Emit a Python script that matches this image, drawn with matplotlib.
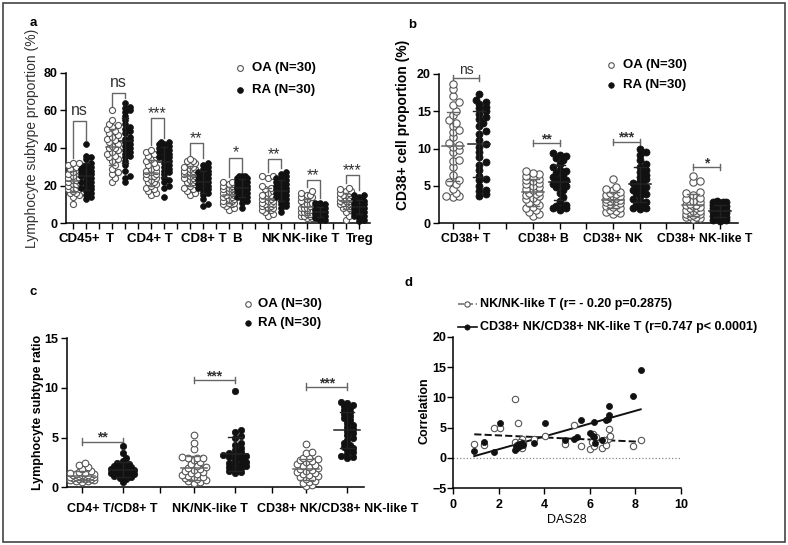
import numpy as np
import matplotlib
matplotlib.use("Agg")
import matplotlib.pyplot as plt
from matplotlib.lines import Line2D
from matplotlib.patches import Rectangle

plt.rcParams['font.family'] = ['Liberation Sans', 'DejaVu Sans']
plt.rcParams['font.weight'] = 'bold'

W, H = 788, 545

# ---- panel a: lymphocyte subtype proportion (%) ----
a_labels = ['CD45+', 'T', 'CD4+ T', 'CD8+ T', 'B', 'NK', 'NK-like T', 'Treg']
a_oa = [
    [10, 14, 15, 16, 16, 17, 18, 18, 19, 19, 20, 20, 21, 21, 22, 22, 23, 23, 24, 24, 25, 26, 26, 27, 28, 29, 30, 31, 32, 32],
    [22, 24, 26, 27, 29, 31, 33, 34, 35, 36, 37, 38, 39, 40, 40, 41, 42, 43, 44, 45, 46, 47, 48, 49, 50, 51, 52, 53, 55, 60],
    [15, 16, 17, 18, 19, 20, 21, 22, 22, 23, 24, 24, 25, 25, 26, 26, 27, 28, 28, 29, 30, 31, 32, 33, 34, 35, 36, 37, 38, 39],
    [15, 16, 17, 18, 19, 20, 21, 22, 22, 23, 23, 24, 24, 25, 25, 26, 26, 27, 27, 28, 28, 29, 29, 30, 30, 31, 32, 33, 33, 34],
    [7, 8, 9, 10, 10, 11, 11, 12, 12, 13, 13, 14, 14, 15, 15, 15, 16, 16, 17, 17, 18, 18, 19, 19, 20, 20, 21, 21, 22, 22],
    [4, 5, 6, 7, 7, 8, 8, 9, 9, 10, 10, 10, 11, 11, 12, 12, 13, 13, 14, 14, 15, 15, 16, 17, 18, 19, 20, 24, 25, 25],
    [3, 3, 4, 4, 4, 5, 5, 5, 6, 6, 6, 7, 7, 7, 8, 8, 8, 9, 9, 10, 10, 11, 12, 13, 14, 14, 15, 15, 16, 17],
    [2, 4, 6, 7, 8, 8, 9, 9, 10, 10, 11, 11, 11, 12, 12, 12, 13, 13, 13, 14, 14, 15, 15, 15, 16, 16, 17, 17, 18, 19],
]
a_ra = [
    [13, 14, 15, 16, 17, 18, 19, 19, 20, 21, 22, 22, 23, 24, 25, 25, 26, 27, 27, 28, 29, 29, 30, 30, 31, 32, 34, 35, 36, 42],
    [22, 24, 25, 28, 31, 33, 35, 36, 37, 38, 39, 40, 41, 42, 43, 44, 45, 46, 48, 49, 50, 51, 53, 55, 57, 59, 60, 61, 62, 64],
    [14, 19, 20, 22, 23, 24, 26, 27, 28, 29, 30, 31, 32, 33, 34, 35, 35, 36, 37, 38, 38, 39, 40, 40, 41, 41, 42, 42, 43, 43],
    [9, 10, 13, 15, 16, 17, 18, 19, 19, 20, 20, 21, 21, 22, 22, 23, 23, 24, 24, 25, 25, 26, 26, 27, 27, 28, 29, 30, 31, 32],
    [8, 11, 12, 13, 14, 14, 15, 15, 16, 16, 17, 17, 18, 18, 19, 19, 20, 20, 21, 21, 22, 22, 23, 23, 24, 24, 25, 25, 24, 25],
    [6, 8, 9, 10, 11, 12, 13, 14, 14, 15, 15, 16, 16, 17, 17, 18, 18, 19, 19, 20, 20, 21, 22, 22, 23, 24, 24, 25, 26, 27],
    [2, 2, 3, 3, 3, 4, 4, 4, 4, 5, 5, 5, 5, 6, 6, 6, 6, 7, 7, 7, 8, 8, 8, 9, 9, 9, 10, 10, 11, 11],
    [1, 2, 3, 4, 4, 5, 5, 6, 6, 7, 7, 7, 8, 8, 8, 9, 9, 9, 10, 10, 10, 11, 11, 12, 12, 13, 13, 14, 15, 15],
]
a_sig = ['ns', 'ns', '***', '**', '*', '**', '**', '***']
a_sig_y = [54.5, 69.4, 55.8, 42.8, 34.9, 34.0, 23.0, 25.7]

# ---- panel b: CD38+ cell proportion (%) ----
b_labels = ['CD38+ T', 'CD38+ B', 'CD38+ NK', 'CD38+ NK-like T']
b_oa = [
    [3.5, 3.6, 3.7, 4.0, 4.6, 5.2, 5.5, 5.8, 6.5, 7.5, 8.3, 8.5, 9.5, 9.8, 10.2, 10.5, 10.8, 11.5, 12.2, 12.5, 13.0, 13.5, 13.9, 14.5, 15.0, 15.8, 16.2, 17.0, 18.0, 18.7],
    [1.0, 1.2, 1.5, 1.8, 2.0, 2.2, 2.5, 2.7, 3.0, 3.2, 3.4, 3.6, 3.8, 3.9, 4.0, 4.2, 4.4, 4.6, 4.8, 5.0, 5.2, 5.4, 5.6, 5.8, 6.0, 6.2, 6.4, 6.6, 6.8, 7.0],
    [1.3, 1.4, 1.5, 1.6, 1.8, 2.0, 2.2, 2.3, 2.5, 2.6, 2.7, 2.8, 2.9, 3.0, 3.0, 3.1, 3.2, 3.3, 3.4, 3.5, 3.6, 3.7, 3.8, 3.9, 4.0, 4.2, 4.4, 4.6, 4.9, 6.0],
    [0.6, 0.7, 0.8, 0.9, 1.0, 1.1, 1.2, 1.3, 1.4, 1.5, 1.6, 1.7, 1.8, 2.0, 2.1, 2.2, 2.3, 2.4, 2.5, 2.6, 2.8, 3.0, 3.2, 3.4, 3.8, 4.0, 4.2, 5.5, 5.7, 6.4],
]
b_ra = [
    [3.7, 3.9, 4.3, 4.5, 5.0, 5.8, 6.0, 6.4, 7.2, 7.8, 8.2, 8.9, 9.5, 10.2, 10.6, 11.2, 12.0, 12.4, 13.0, 13.5, 14.0, 14.3, 14.6, 15.0, 15.4, 15.6, 16.0, 16.2, 16.5, 17.3],
    [1.8, 2.0, 2.0, 2.2, 2.3, 2.5, 3.0, 3.5, 4.0, 4.5, 4.8, 5.0, 5.2, 5.3, 5.5, 5.6, 5.8, 6.0, 6.2, 6.5, 6.8, 7.0, 7.2, 7.5, 8.0, 8.5, 8.7, 9.0, 9.2, 9.4],
    [1.9, 2.0, 2.1, 2.3, 2.5, 2.8, 3.0, 3.3, 3.6, 3.9, 4.1, 4.3, 4.5, 4.7, 4.8, 5.0, 5.2, 5.4, 5.6, 5.9, 6.2, 6.5, 6.9, 7.2, 7.6, 8.0, 8.5, 9.2, 9.6, 10.0],
    [0.3, 0.4, 0.5, 0.6, 0.7, 0.8, 0.9, 1.0, 1.1, 1.2, 1.3, 1.4, 1.5, 1.5, 1.6, 1.7, 1.8, 1.9, 2.0, 2.1, 2.2, 2.3, 2.4, 2.5, 2.6, 2.7, 2.8, 2.8, 2.9, 3.0],
]
b_sig = ['ns', '**', '***', '*']
b_sig_y = [19.5, 10.7, 10.9, 7.5]

# ---- panel c: lymphocyte subtype ratio ----
c_labels = ['CD4+ T/CD8+ T', 'NK/NK-like T', 'CD38+ NK/CD38+ NK-like T']
c_oa = [
    [0.5, 0.6, 0.6, 0.7, 0.7, 0.8, 0.8, 0.8, 0.9, 0.9, 0.9, 1.0, 1.0, 1.0, 1.1, 1.1, 1.1, 1.2, 1.2, 1.2, 1.3, 1.3, 1.4, 1.4, 1.5, 1.6, 1.8, 2.0, 2.2, 2.4],
    [0.4, 0.5, 0.6, 0.7, 0.8, 0.9, 0.9, 1.0, 1.0, 1.1, 1.2, 1.3, 1.4, 1.5, 1.6, 1.7, 1.8, 1.9, 2.0, 2.1, 2.3, 2.5, 2.7, 2.9, 3.0, 3.0, 3.1, 3.9, 4.5, 5.3],
    [0.1, 0.2, 0.4, 0.5, 0.6, 0.8, 0.9, 1.0, 1.1, 1.2, 1.3, 1.4, 1.5, 1.6, 1.7, 1.8, 1.9, 2.0, 2.1, 2.2, 2.3, 2.5, 2.6, 2.7, 2.8, 2.9, 3.0, 3.5, 3.6, 4.4],
]
c_ra = [
    [0.5, 0.8, 0.9, 1.0, 1.1, 1.2, 1.2, 1.3, 1.3, 1.4, 1.4, 1.5, 1.5, 1.6, 1.6, 1.7, 1.7, 1.8, 1.8, 1.9, 2.0, 2.0, 2.1, 2.2, 2.3, 2.4, 2.6, 2.9, 3.5, 4.2],
    [1.4, 1.5, 1.6, 1.8, 1.9, 2.0, 2.1, 2.2, 2.3, 2.4, 2.5, 2.6, 2.8, 3.0, 3.1, 3.2, 3.2, 3.3, 3.4, 3.5, 3.6, 3.8, 4.0, 4.3, 4.5, 5.0, 5.2, 5.6, 5.8, 9.7],
    [3.0, 3.1, 3.2, 3.4, 3.6, 3.8, 4.0, 4.1, 4.3, 4.5, 4.8, 5.0, 5.3, 5.5, 5.7, 5.9, 6.1, 6.3, 6.5, 6.8, 7.0, 7.2, 7.4, 7.6, 7.8, 8.0, 8.2, 8.3, 8.5, 8.6],
]
c_sig = ['**', '***', '***']
c_sig_y = [4.6, 10.8, 10.1]

# ---- panel d: correlation with DAS28 ----
d_open_x = [0.92, 1.36, 1.77, 2.04, 2.72, 2.86, 2.71, 3.0, 3.03, 3.54, 4.03, 4.89, 5.31, 5.59, 6.0,
            6.15, 6.18, 6.25, 6.54, 6.71, 6.78, 6.84, 6.88, 7.91, 8.23, 2.8, 2.95, 6.1, 6.6, 3.05]
d_open_y = [2.3, 2.1, 5.0, 5.0, 9.7, 5.8, 2.7, 3.2, 1.6, 3.2, 3.7, 2.3, 5.5, 2.0, 1.4,
            4.0, 2.0, 3.4, 1.7, 2.2, 3.2, 4.8, 3.7, 2.0, 3.0, 2.2, 2.6, 2.6, 2.9, 2.4]
d_fill_x = [0.92, 1.36, 1.77, 2.04, 2.71, 2.75, 2.86, 2.93, 3.0, 3.07, 3.54, 4.03, 4.89, 5.31, 5.42,
            5.59, 6.0, 6.18, 6.19, 6.21, 6.54, 6.71, 6.78, 6.84, 6.84, 7.91, 8.23, 2.8, 2.9, 6.15]
d_fill_y = [1.2, 2.6, 1.0, 5.7, 1.3, 2.0, 2.1, 1.9, 2.4, 2.2, 2.4, 5.7, 3.0, 3.2, 3.4,
            6.3, 4.1, 3.4, 6.0, 2.5, 3.0, 6.3, 6.5, 7.1, 8.5, 10.3, 14.5, 1.7, 2.3, 3.6]
d_labels = ['NK/NK-like T (r= - 0.20 p=0.2875)', 'CD38+ NK/CD38+ NK-like T (r=0.747 p< 0.0001)']

legend_labels = ['OA (N=30)', 'RA (N=30)']
OPEN = dict(mfc='white', mec='#555555', mew=0.8)
FILL = dict(mfc='#111111', mec='#111111', mew=0.5)


def px_axes(fig, x0, x1, y0, y1):
    return fig.add_axes([x0 / W, 1 - y1 / H, (x1 - x0) / W, (y1 - y0) / H])


def swarm(vals, xpx, ypx, d, maxw):
    # simple beeswarm: horizontal offsets (in data units), dots may overlap a bit
    vals = np.asarray(vals, float)
    offs = np.zeros(len(vals))
    step = d * 0.45
    cands = [0.0]
    k = 1
    while k * step <= maxw + 1e-9:
        cands += [k * step, -k * step]
        k += 1
    placed = []
    for i in np.argsort(vals):
        y = vals[i] * ypx
        best, bestd = 0.0, -1.0
        for c in cands:
            md = min([np.hypot(c - px, y - py) for px, py in placed], default=1e9)
            if md >= d * 0.62:
                best = c
                break
            if md > bestd:
                best, bestd = c, md
        offs[i] = best
        placed.append((best, y))
    return offs / xpx


def dot_column(ax, x, vals, filled, ms, xpx, ypx, maxw, mw, cw):
    offs = swarm(vals, xpx, ypx, ms / 0.72, maxw)
    st = FILL if filled else OPEN
    ax.plot(x + offs, vals, 'o', ms=ms, ls='none', zorder=3, clip_on=False, **st)
    m, s = np.mean(vals), np.std(vals, ddof=1)
    col = '#222222' if filled else '#666666'
    ax.plot([x - mw, x + mw], [m, m], color=col, lw=1.1, zorder=4)
    ax.plot([x, x], [m - s, m + s], color=col, lw=1.0, zorder=4)
    for v in (m - s, m + s):
        ax.plot([x - cw, x + cw], [v, v], color=col, lw=1.0, zorder=4)


def style(ax, ylim, yticks):
    for s in ['top', 'right']:
        ax.spines[s].set_visible(False)
    for s in ['left', 'bottom']:
        ax.spines[s].set_linewidth(1.1)
    ax.set_ylim(*ylim)
    ax.set_yticks(yticks)
    ax.tick_params(direction='out', length=4, width=1.0, labelsize=9, pad=2)


def cat_labels(ax, xs, labels, fs, dy):
    ax.set_xticklabels([])
    for x, lab in zip(xs, labels):
        ax.annotate(lab, xy=(x, 0), xycoords=('data', 'axes fraction'), xytext=(0, dy),
                    textcoords='offset points', ha='center', va='top', fontsize=fs)


def legend_dots(fig, xm, xt, ys, fs, ms):
    for st, lab, y in zip([OPEN, FILL], legend_labels, ys):
        fig.add_artist(Line2D([xm / W], [1 - y / H], transform=fig.transFigure,
                              marker='o', ms=ms, ls='none', **st))
        fig.text(xt / W, 1 - y / H, lab, va='center', ha='left', fontsize=9.5)


def cap_sig(ax, x0, x1, y, txt, cap, fs):
    ax.plot([x0, x1], [y, y], color='#666666', lw=1.0)
    for x in (x0, x1):
        ax.plot([x, x], [y - cap, y + cap], color='#666666', lw=1.0)
    off = 3 if txt == 'ns' else 0
    ax.annotate(txt, xy=((x0 + x1) / 2, y), xytext=(0, off), textcoords='offset points',
                ha='center', va='baseline', fontsize=fs, color='#333333',
                fontweight='normal' if txt == 'ns' else 'bold')


fig = plt.figure(figsize=(W / 100, H / 100), dpi=100)
fig.add_artist(Rectangle((3 / W, 3 / H), 782 / W, 539 / H, transform=fig.transFigure,
                         fill=False, edgecolor='#444444', lw=1.2))

# ---------- panel a ----------
ax = px_axes(fig, 66, 370, 72.7, 223.3)
style(ax, (0, 80), [0, 20, 40, 60, 80])
ax.set_xlim(-0.54, 22.85)
ax.set_xticks(np.arange(23))
for i in range(len(a_labels)):
    xo, xr = 3 * i, 3 * i + 1
    dot_column(ax, xo, a_oa[i], False, 4.4, 13, 1.88, 6.0, 0.46, 0.23)
    dot_column(ax, xr, a_ra[i], True, 4.2, 13, 1.88, 6.0, 0.46, 0.23)
    top = a_sig_y[i]
    ax.plot([xo, xo, xr, xr], [max(a_oa[i]) + 2.5, top, top, max(a_ra[i]) + 2.5],
            color='#666666', lw=1.0)
    off = 4 if a_sig[i] == 'ns' else 0
    ax.annotate(a_sig[i], xy=((xo + xr) / 2, top), xytext=(0, off), textcoords='offset points',
                ha='center', va='baseline', fontsize=11.5, color='#333333', fontweight='normal')
cat_labels(ax, [0.51, 2.85, 5.92, 10.08, 12.62, 15.23, 18.31, 22.08], a_labels, 9.5, -7)
fig.text(31.7 / W, 1 - 138 / H, 'Lymphocyte subtype proportion (%)', rotation=90,
         ha='center', va='center', fontsize=10, fontweight='normal', color='#333333')
legend_dots(fig, 240, 251.7, [68.3, 90], 9.5, 4.2)
fig.text(33 / W, 1 - 23 / H, 'a', ha='center', va='center', fontsize=9.5)

# ---------- panel b ----------
ax = px_axes(fig, 439.3, 737.7, 74, 223.3)
style(ax, (0, 20), [0, 5, 10, 15, 20])
ax.set_xlim(-0.5, 10.67)
ax.set_xticks(np.arange(11))
for i in range(len(b_labels)):
    xo, xr = 3 * i, 3 * i + 1
    dot_column(ax, xo, b_oa[i], False, 5.3, 26.7, 7.47, 9, 0.41, 0.22)
    dot_column(ax, xr, b_ra[i], True, 5.1, 26.7, 7.47, 9, 0.41, 0.22)
    cap_sig(ax, xo, xr, b_sig_y[i], b_sig[i], 0.4, 10)
cat_labels(ax, [0.5, 3.4, 6.0, 9.45], b_labels, 8.8, -7)
fig.text(402.5 / W, 1 - 125 / H, 'CD38+ cell proportion (%)', rotation=90,
         ha='center', va='center', fontsize=10)
legend_dots(fig, 611, 623.3, [65, 85], 9.5, 4.0)
fig.text(411.7 / W, 1 - 25 / H, 'b', ha='center', va='center', fontsize=9.5)

# ---------- panel c ----------
ax = px_axes(fig, 66.7, 364, 338.3, 487.3)
style(ax, (0, 15), [0, 5, 10, 15])
ax.set_xlim(-0.4, 7.55)
ax.set_xticks([0, 1.1, 2.1, 3, 4.1, 5.1, 6, 7.1])
for i in range(len(c_labels)):
    xo, xr = 3 * i, 3 * i + 1.1
    dot_column(ax, xo, c_oa[i], False, 4.8, 37.4, 9.93, 13, 0.35, 0.19)
    dot_column(ax, xr, c_ra[i], True, 4.6, 37.4, 9.93, 13, 0.35, 0.19)
    cap_sig(ax, xo, xr, c_sig_y[i], c_sig[i], 0.35, 10)
cat_labels(ax, [0.82, 3.42, 6.85], c_labels, 9, -11)
fig.text(38.3 / W, 1 - 412.5 / H, 'Lymphocyte subtype ratio', rotation=90,
         ha='center', va='center', fontsize=9)
legend_dots(fig, 247.7, 258, [304.3, 322.7], 9.5, 4.0)
fig.text(33.3 / W, 1 - 291.7 / H, 'c', ha='center', va='center', fontsize=9.5)

# ---------- panel d ----------
ax = px_axes(fig, 453.3, 681, 336.7, 488.3)
style(ax, (-5, 20), [-5, 0, 5, 10, 15, 20])
ax.set_xlim(0, 10)
ax.set_xticks([0, 2, 4, 6, 8, 10])
ax.tick_params(axis='x', pad=4)
ax.tick_params(axis='y', pad=1)
ax.axhline(0, color='#888888', ls=':', lw=0.9, zorder=1)
ax.plot(d_open_x, d_open_y, 'o', ms=4.6, ls='none', zorder=3, **OPEN)
ax.plot(d_fill_x, d_fill_y, 'o', ms=4.4, ls='none', zorder=3, **FILL)
for xs, ys, ls in [(d_open_x, d_open_y, '--'), (d_fill_x, d_fill_y, '-')]:
    k, b0 = np.polyfit(xs, ys, 1)
    xx = np.array([min(xs), max(xs)])
    ax.plot(xx, k * xx + b0, color='#111111', ls=ls, lw=1.4, zorder=2)
ax.set_xlabel('DAS28', fontsize=9, labelpad=2)
fig.text(425 / W, 1 - 410.8 / H, 'Correlation', rotation=90,
         ha='center', va='center', fontsize=9)
for (st, ls, col), lab, y in zip([(OPEN, '--', '#777777'), (FILL, '-', '#111111')], d_labels, [304.3, 326.7]):
    fig.add_artist(Line2D([458.3 / W, 476.7 / W], [1 - y / H] * 2, transform=fig.transFigure,
                          color=col, ls=ls, lw=1.2))
    fig.add_artist(Line2D([467 / W], [1 - y / H], transform=fig.transFigure,
                          marker='o', ms=3.8, ls='none', **st))
    fig.text(480 / W, 1 - y / H, lab, va='center', ha='left', fontsize=9)
fig.text(408.3 / W, 1 - 283.3 / H, 'd', ha='center', va='center', fontsize=9.5)

fig.savefig('out.png', dpi=100)
